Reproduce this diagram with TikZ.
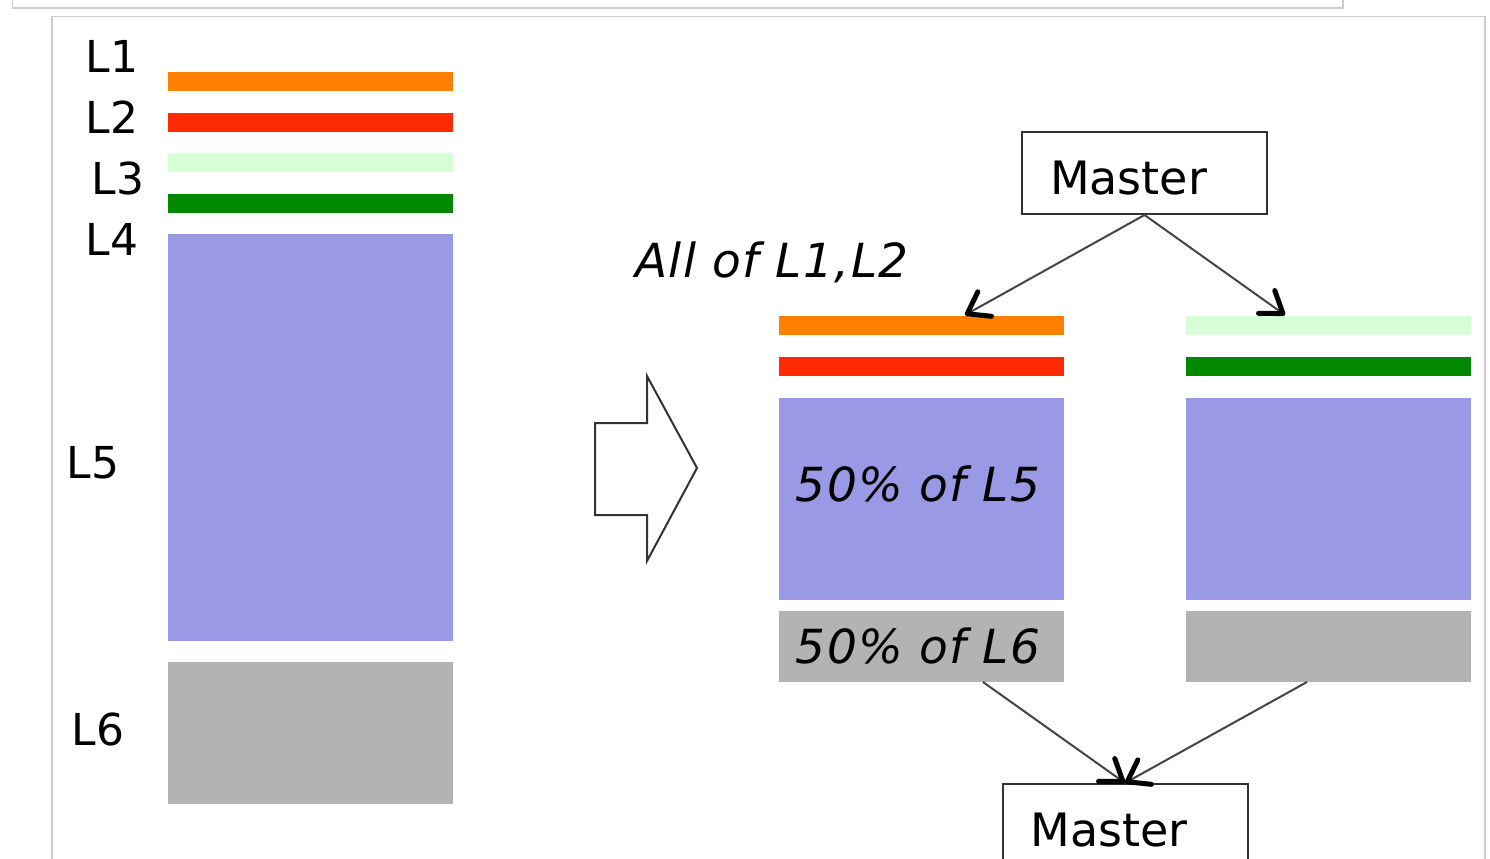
\documentclass[tikz,border=0pt]{standalone}
\usepackage{fontspec}
\setmainfont{DejaVu Sans}
\usetikzlibrary{arrows.meta}

\definecolor{framegray}{HTML}{CCCCCC}
\definecolor{edgegray}{HTML}{333333}
\definecolor{linkgray}{HTML}{444444}
\definecolor{lone}{HTML}{FF8000}
\definecolor{ltwo}{HTML}{FF2A00}
\definecolor{lthree}{HTML}{D6FFD6}
\definecolor{lfour}{HTML}{008800}
\definecolor{lfive}{HTML}{9999E6}
\definecolor{lsix}{HTML}{B3B3B3}

\tikzset{
  bar/.style={inner sep=0pt, outer sep=0pt, minimum width=142.5pt, draw=none},
  thinbar/.style={bar, minimum height=9.5pt},
  lbl/.style={anchor=base, inner sep=0pt, font=\fontsize{22}{26}\selectfont},
  share/.style={anchor=base, inner sep=0pt,
    font=\fontsize{23.5}{28}\selectfont\itshape\addfontfeature{LetterSpace=3}},
  masterbox/.style={draw=edgegray, line width=1pt, minimum width=122.5pt,
    minimum height=41pt, inner xsep=14pt, text width=94.5pt, align=left,
    text height=21pt, text depth=0pt,
    font=\fontsize{23}{27}\selectfont},
  link/.style={draw=linkgray, line width=1pt,
    -{Straight Barb[length=10pt,width=14pt,line width=2.5pt 0,color=black,round]}},
  bigarrow/.style={draw=edgegray, line width=1pt, line join=miter}
}

\begin{document}
\begin{tikzpicture}[x=0.5pt,y=-0.5pt]
\clip (0,0) rectangle (1490,858);
\fill[white] (0,0) rectangle (1490,858);

% page frames
\draw[framegray, line width=0.75pt] (12.5,-10) |- (1343,8) -- (1343,-10);
\draw[framegray, line width=0.75pt] (52,870) |- (1485,16.5) -- (1485,870);

% full layer stack
\node[thinbar, fill=lone]   (a1) at (310.5,81.5) {};
\node[thinbar, fill=ltwo]   (a2) at (310.5,122.5) {};
\node[thinbar, fill=lthree] (a3) at (310.5,162.5) {};
\node[thinbar, fill=lfour]  (a4) at (310.5,203.5) {};
\node[bar, fill=lfive, minimum height=203.5pt] (a5) at (310.5,437.5) {};
\node[bar, fill=lsix,  minimum height=71pt]    (a6) at (310.5,733) {};

\node[lbl] (n1) at (112,72)  {L1};
\node[lbl] (n2) at (112,133) {L2};
\node[lbl] (n3) at (118,194) {L3};
\node[lbl] (n4) at (112,255) {L4};
\node[lbl] (n5) at (93,478)  {L5};
\node[lbl] (n6) at (98,745)  {L6};

% transition arrow
\draw[bigarrow] (595,423) -- (647,423) -- (647,376) -- (697,468)
  -- (647,561) -- (647,515) -- (595,515) -- cycle;

% left half of the split
\node[thinbar, fill=lone] (b1) at (921,325.5) {};
\node[thinbar, fill=ltwo] (b2) at (921,366.5) {};
\node[bar, fill=lfive, minimum height=101pt]  (b5) at (921,499) {};
\node[bar, fill=lsix,  minimum height=35.5pt] (b6) at (921,646.5) {};

% right half of the split
\node[thinbar, fill=lthree] (c3) at (1328,325.5) {};
\node[thinbar, fill=lfour]  (c4) at (1328,366.5) {};
\node[bar, fill=lfive, minimum height=101pt]  (c5) at (1328,499) {};
\node[bar, fill=lsix,  minimum height=35.5pt] (c6) at (1328,646.5) {};

\node[share] (t12) at (772,277) {All of L1,L2};
\node[share] (t5)  at (918,501) {50\% of L5};
\node[share] (t6)  at (918,663) {50\% of L6};

% masters
\node[masterbox] (m1) at (1144.5,173) {Master};
\node[masterbox] (m2) at (1125,825) {Master};

\coordinate (e1) at (965,315);
\coordinate (e2) at (1285,315);
\coordinate (s1) at (983,682);
\coordinate (s2) at (1307,682);

\draw[link] (m1.south) -- (e1);
\draw[link] (m1.south) -- (e2);
\draw[link] (s1) -- (m2.north);
\draw[link] (s2) -- (m2.north);
\end{tikzpicture}
\end{document}
